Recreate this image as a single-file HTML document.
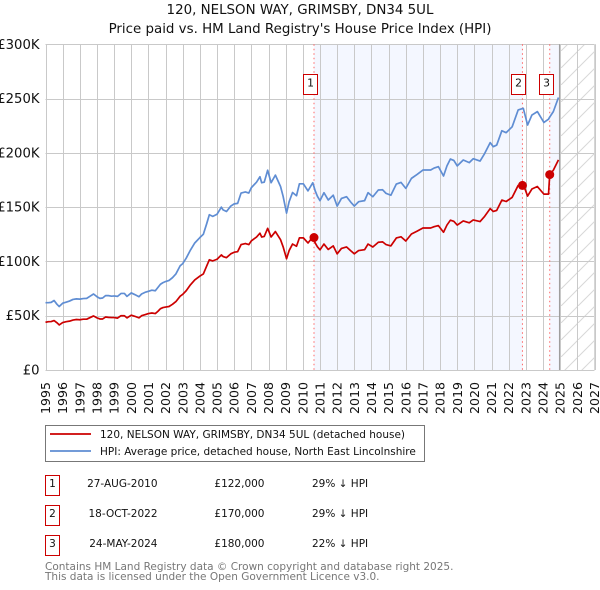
<!DOCTYPE html>
<html lang="en">
<head>
<meta charset="utf-8">
<title>120, Nelson Way, Grimsby - price paid vs. HPI</title>
<style>
html,body{margin:0;padding:0;background:#fff;width:600px;height:590px;overflow:hidden}
svg{display:block}
text{font-family:"DejaVu Sans","Liberation Sans",sans-serif;fill:#111}
</style>
</head>
<body>
<svg id="chart" xmlns="http://www.w3.org/2000/svg" width="600" height="590" viewBox="0 0 600 590">
  <defs>
    <pattern id="hatch" patternUnits="userSpaceOnUse" width="17" height="17">
      <path d="M-2 19 L19 -2" stroke="#d8d8d8" stroke-width="1" fill="none"/>
    </pattern>
  </defs>
  <text x="300" y="14" text-anchor="middle" font-size="13.4">120, NELSON WAY, GRIMSBY, DN34 5UL</text>
  <text x="300" y="33" text-anchor="middle" font-size="13.4">Price paid vs. HM Land Registry's House Price Index (HPI)</text>
  <g id="plot"></g>

  <g>
    <rect x="45.5" y="425.5" width="379" height="36" fill="#fff" stroke="#777" stroke-width="1"/>
    <line x1="50" x2="91" y1="434" y2="434" stroke="#cc0000" stroke-width="1.7"/>
    <text x="100" y="438" font-size="10.5">120, NELSON WAY, GRIMSBY, DN34 5UL (detached house)</text>
    <line x1="50" x2="91" y1="451" y2="451" stroke="#5f8dd3" stroke-width="1.7"/>
    <text x="100" y="455" font-size="10.5">HPI: Average price, detached house, North East Lincolnshire</text>
  </g>

  <g font-size="10.5">
    <rect x="45.5" y="475.5" width="14" height="20" fill="#fff" stroke="#cc0000"/>
    <text x="52.5" y="487" text-anchor="middle">1</text>
    <text x="157.5" y="487" text-anchor="end">27-AUG-2010</text>
    <text x="264.5" y="487" text-anchor="end">£122,000</text>
    <text x="312" y="487">29% ↓ HPI</text>

    <rect x="45.5" y="505.5" width="14" height="20" fill="#fff" stroke="#cc0000"/>
    <text x="52.5" y="517" text-anchor="middle">2</text>
    <text x="157.5" y="517" text-anchor="end">18-OCT-2022</text>
    <text x="264.5" y="517" text-anchor="end">£170,000</text>
    <text x="312" y="517">29% ↓ HPI</text>

    <rect x="45.5" y="535.5" width="14" height="20" fill="#fff" stroke="#cc0000"/>
    <text x="52.5" y="547" text-anchor="middle">3</text>
    <text x="157.5" y="547" text-anchor="end">24-MAY-2024</text>
    <text x="264.5" y="547" text-anchor="end">£180,000</text>
    <text x="312" y="547">22% ↓ HPI</text>
  </g>

  <text x="45" y="570" font-size="10.5" style="fill:#777">Contains HM Land Registry data © Crown copyright and database right 2025.</text>
  <text x="45" y="580" font-size="10.5" style="fill:#777">This data is licensed under the Open Government Licence v3.0.</text>
</svg>
<script>
const yearTicks = [1995,1996,1997,1998,1999,2000,2001,2002,2003,2004,2005,2006,2007,2008,2009,2010,2011,2012,2013,2014,2015,2016,2017,2018,2019,2020,2021,2022,2023,2024,2025,2026,2027];
const priceTicks = [0,50,100,150,200,250,300];
const priceTickLabels = ["£0","£50K","£100K","£150K","£200K","£250K","£300K"];
const dates = [1995.0,1995.17,1995.33,1995.5,1995.67,1995.8,1996.0,1996.2,1996.4,1996.6,1996.8,1997.0,1997.2,1997.4,1997.6,1997.8,1998.0,1998.17,1998.33,1998.5,1998.67,1998.85,1999.0,1999.2,1999.4,1999.6,1999.75,2000.0,2000.2,2000.45,2000.6,2000.8,2001.0,2001.2,2001.4,2001.55,2001.7,2001.85,2002.0,2002.2,2002.4,2002.6,2002.85,2003.0,2003.2,2003.45,2003.7,2004.0,2004.2,2004.4,2004.55,2004.75,2005.0,2005.25,2005.35,2005.55,2005.8,2006.0,2006.2,2006.4,2006.65,2006.85,2007.0,2007.3,2007.5,2007.6,2007.75,2007.95,2008.15,2008.4,2008.7,2008.85,2009.05,2009.2,2009.4,2009.63,2009.8,2010.03,2010.3,2010.58,2010.72,2010.85,2011.0,2011.23,2011.48,2011.77,2012.0,2012.25,2012.55,2012.8,2013.0,2013.25,2013.6,2013.8,2014.08,2014.4,2014.65,2014.85,2015.13,2015.45,2015.72,2016.0,2016.33,2016.65,2017.0,2017.45,2017.65,2017.9,2018.2,2018.4,2018.6,2018.8,2019.0,2019.35,2019.7,2019.93,2020.33,2020.6,2020.92,2021.1,2021.3,2021.6,2021.85,2022.2,2022.55,2022.85,2023.1,2023.35,2023.67,2024.05,2024.32,2024.39,2024.6,2024.9];
const hpiValues = [62,62,62.3,64,60.5,58.5,61.5,62.5,63.5,65,65.5,65.3,65.8,66,68,70,67.5,66,66.3,68.5,68.5,68,68.2,67.8,70.5,70.5,67.8,71,69.5,67.5,70,71.5,72.5,73.5,73,76,79,80.5,81.5,82.5,85,88.5,96,98,103,110.5,117,122,125,135,143,141.5,143.5,150,147.5,146,151,153,153.5,163,164,163,168,173,178,172.5,173,184,172.5,179.5,169,160,144.5,155,163.5,160.5,171.5,171.5,165,172.5,165,160,156,163.3,156.6,161,151,158,159.6,154.5,151,155,156,163.3,159.6,165.8,166,162.7,161,171.3,172.8,167.3,176.5,180,184.2,184.2,186,187.3,178.7,188,194.3,193,188,193.4,191,194.6,192.5,199.5,209.4,205.7,207.2,220.4,218.6,224,239.5,241,225.6,234.8,238,228,231,233,238,251];
const paidValues = [44,44.5,44.6,45.5,43.5,41.5,43.7,44.5,45,46,46.5,46.3,46.8,46.8,48.3,49.8,48,47,47,48.8,48.5,48.3,48.3,47.8,50,50,48,50.5,49.5,48,50,51,52,52.5,52,54,56.5,57.5,58,58.5,60.5,63,68,69.7,73,78.5,83,86.5,88.5,96,101.5,100.5,102,106,104.5,103.5,107,108.5,109,115.5,116.5,115.5,119,122.5,126,122.5,123,130.5,122.5,127.5,120,113.5,102.5,110,116,114,121.7,121.7,117,122.5,117,113.5,110.7,116,111,114.3,107,112,113.3,109.7,107,110,110.8,116,113.3,117.7,118,115.5,114.3,121.6,122.7,118.8,125.3,127.8,130.8,130.8,132,133,126.9,133.5,138,137,133.5,137.3,135.6,138.2,136.7,141.6,148.7,146,147,156.5,155.2,159,170,171,160.2,166.7,169,162,162,180,184,193.5];
const saleDates = [2010.65,2022.8,2024.39];
const salePrices = [122,170,180];
const saleLabels = ["1","2","3"];

const NS = "http://www.w3.org/2000/svg";
const plot = document.getElementById("plot");
const X0 = 45.5, X1 = 594.5, Y0 = 370, Y1 = 44.3;
const xMin = 1995, xMax = 2027, yMin = 0, yMax = 300;
function xScale(d){ return X0 + (d - xMin) * (X1 - X0) / (xMax - xMin); }
function yScale(v){ return Y0 - (v - yMin) * (Y0 - Y1) / (yMax - yMin); }
function make(tag, attrs, parent){
  const el = document.createElementNS(NS, tag);
  for (const k in attrs) el.setAttribute(k, attrs[k]);
  (parent || plot).appendChild(el);
  return el;
}
const endDate = dates[dates.length - 1] + 0.04;

// shaded HPI-comparison bands
const band1 = make("rect", {x:xScale(saleDates[0]), y:Y1, width:xScale(saleDates[1])-xScale(saleDates[0]), height:Y0-Y1, fill:"#f4f7ff"});


const band2 = make("rect", {x:xScale(saleDates[2]), y:Y1, width:xScale(endDate)-xScale(saleDates[2]), height:Y0-Y1, fill:"#f4f7ff"});


const hatchRect = make("rect", {x:xScale(endDate), y:Y1, width:X1-xScale(endDate), height:Y0-Y1, fill:"url(#hatch)"});



// gridlines and tick labels
yearTicks.forEach(function(year){
  const px = Math.round(xScale(year)) + 0.5;
  const g = make("line", {x1:px, x2:px, y1:Y1, y2:Y0, stroke:"#c9c9c9", "stroke-width":1});
  
  
  const t = make("text", {transform:"translate(" + (xScale(year)+4.5) + ",414) rotate(-90)", "font-size":12.6});
  
  
  t.textContent = year;
});
priceTicks.forEach(function(v, i){
  const py = Math.round(yScale(v)) + 0.5;
  const g = make("line", {x1:X0, x2:X1, y1:py, y2:py, stroke:"#c9c9c9", "stroke-width":1});
  
  
  const t = make("text", {x:39.5, y:yScale(v)+4.5, "text-anchor":"end", "font-size":13.2});
  
  
  t.textContent = priceTickLabels[i];
});
const rightEdge = make("line", {x1:X1, x2:X1, y1:Y1, y2:Y0, stroke:"#d6d6d6", "stroke-width":1});


const dataEnd = make("line", {x1:xScale(endDate)+0.3, x2:xScale(endDate)+0.3, y1:Y1, y2:Y0, stroke:"#9a9a9a", "stroke-width":1});



// sale marker vertical lines
saleDates.forEach(function(d){
  const px = xScale(d);
  const l = make("line", {x1:px, x2:px, y1:Y1, y2:Y0, stroke:"#ff6666", "stroke-width":1, "stroke-dasharray":"1.5 3"});
  
  
});

// series
function pathFor(values){
  return values.map(function(v, i){
    return (i ? "L" : "M") + xScale(dates[i]).toFixed(2) + " " + yScale(v).toFixed(2);
  }).join(" ");
}
const hpiLine = make("path", {d:pathFor(hpiValues), fill:"none", stroke:"#5f8dd3", "stroke-width":1.7, "stroke-linejoin":"round"});


const paidLine = make("path", {d:pathFor(paidValues), fill:"none", stroke:"#cc0000", "stroke-width":1.7, "stroke-linejoin":"round"});



// sale points and numbered badges
saleDates.forEach(function(d, i){
  const px = xScale(d);
  const dot = make("circle", {cx:px, cy:yScale(salePrices[i]), r:4.5, fill:"#cc0000"});
  
  
  const box = make("rect", {x:Math.round(px)-10.5, y:74.5, width:14, height:20, fill:"#fff", stroke:"#cc0000", "stroke-width":1});
  
  
  const label = make("text", {x:Math.round(px)-3.5, y:86.5, "text-anchor":"middle", "font-size":10.8});
  
  
  label.textContent = saleLabels[i];
});
</script>
</body>
</html>
